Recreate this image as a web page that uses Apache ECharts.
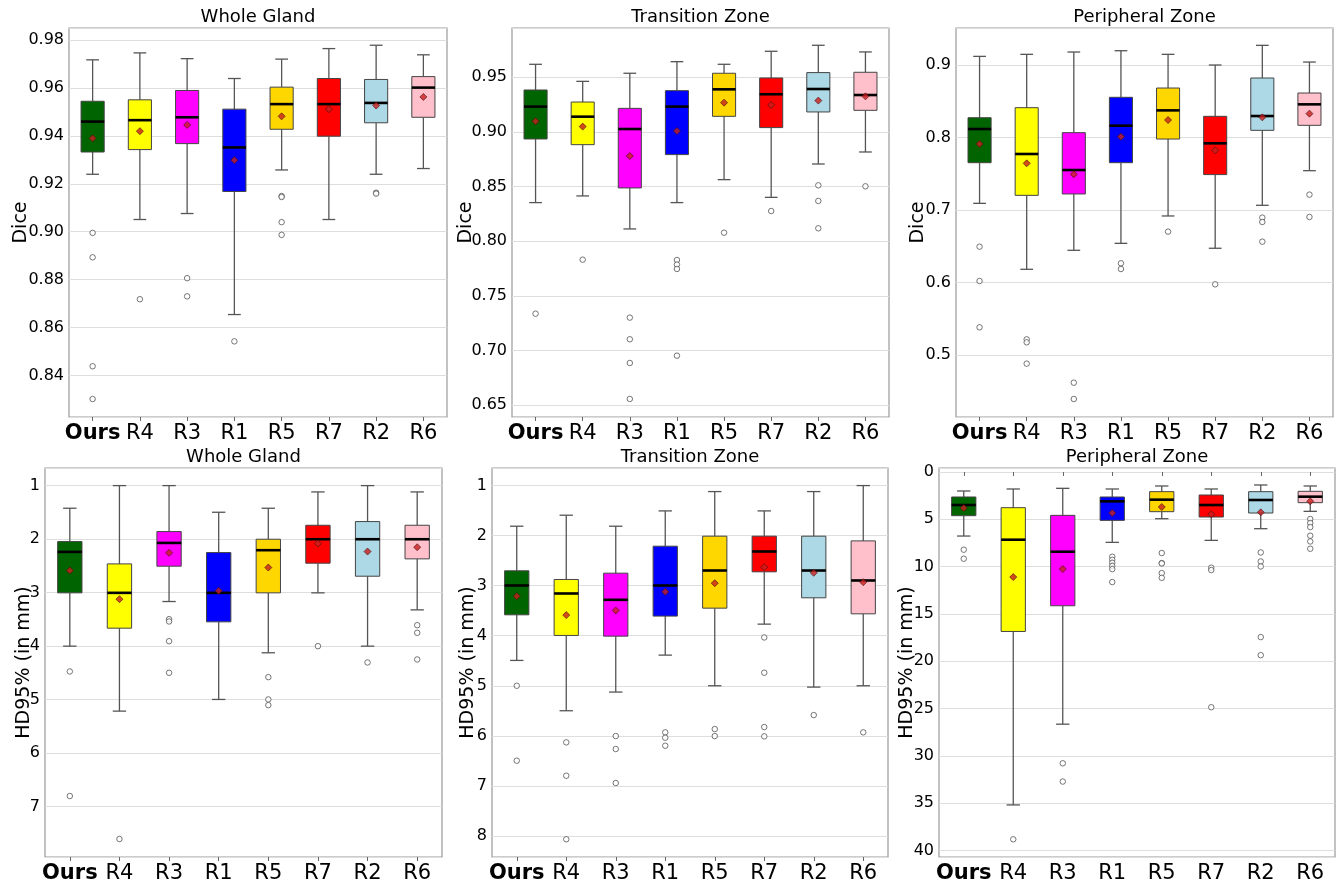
<!DOCTYPE html>
<html><head><meta charset="utf-8">
<script src="https://cdn.jsdelivr.net/npm/echarts@6/dist/echarts.min.js"></script>
<style>html,body{margin:0;padding:0;background:#fff}#c{width:1336px;height:884px}</style>
</head><body><div id="c"></div>
<script>
const categories = ['Ours','R4','R3','R1','R5','R7','R2','R6'];
const boxColors = ['#006400','#ffff00','#ff00ff','#0000ff','#ffd700','#ff0000','#add8e6','#ffc0cb'];

// each box: [whisker low, Q1, median, Q3, whisker high]
const wgDiceBox = [[0.924,0.9333,0.946,0.9545,0.9718],[0.9051,0.9343,0.9466,0.9551,0.9747],[0.9076,0.9368,0.9478,0.959,0.9723],[0.8654,0.9168,0.9352,0.9512,0.964],[0.9258,0.9428,0.9533,0.9604,0.9721],[0.9051,0.9399,0.9533,0.964,0.9765],[0.924,0.9455,0.9538,0.9636,0.9779],[0.9264,0.9478,0.9602,0.9648,0.9739]];
const wgDiceMean = [0.939,0.942,0.9446,0.9299,0.9482,0.9512,0.9527,0.9563];
const wgDiceOut = [[0.8995,0.8893,0.8438,0.8301],[0.8718],[0.8806,0.873],[0.8542],[0.9149,0.9145,0.904,0.8987],[],[0.9163,0.9159],[]];

const tzDiceBox = [[0.8354,0.8936,0.9232,0.9384,0.9619],[0.8415,0.8884,0.914,0.9274,0.9463],[0.8113,0.8488,0.9027,0.9216,0.9537],[0.8354,0.8793,0.9232,0.9378,0.9643],[0.8564,0.9143,0.939,0.9537,0.9619],[0.8402,0.904,0.9345,0.9494,0.9738],[0.8707,0.9183,0.9393,0.9543,0.9793],[0.8817,0.9198,0.9338,0.9546,0.9732]];
const tzDiceMean = [0.9098,0.9049,0.878,0.9009,0.9268,0.9247,0.9287,0.9326];
const tzDiceOut = [[0.7338],[0.7832],[0.7302,0.7104,0.6887,0.6558],[0.7829,0.7787,0.7747,0.6954],[0.8079],[0.8277],[0.8512,0.8369,0.8119],[0.8503]];

const pzDiceBox = [[0.7094,0.7654,0.8118,0.8274,0.9119],[0.6185,0.7204,0.7774,0.8412,0.9147],[0.6447,0.7223,0.7553,0.8068,0.9179],[0.6543,0.7654,0.8164,0.8555,0.9197],[0.692,0.798,0.8375,0.8683,0.9147],[0.6475,0.749,0.7921,0.8293,0.9],[0.7067,0.81,0.8297,0.8821,0.9271],[0.7544,0.8169,0.8458,0.8614,0.9041]];
const pzDiceMean = [0.7912,0.7645,0.7494,0.8013,0.8242,0.7824,0.8279,0.833];
const pzDiceOut = [[0.6497,0.6024,0.5386],[0.522,0.5179,0.4885],[0.4623,0.4398],[0.6268,0.6189],[0.6704],[0.5978],[0.6897,0.6837,0.6566],[0.7214,0.6906]];

const wgHdBox = [[1.423,2.046,2.239,3.004,4.0],[1.0,2.463,3.004,3.664,5.214],[1.0,1.859,2.071,2.506,3.166],[1.498,2.251,3.004,3.546,4.996],[1.423,2.002,2.207,3.004,4.124],[1.118,1.741,2.002,2.45,3.004],[1.0,1.672,2.002,2.693,4.0],[1.118,1.741,2.002,2.369,3.322]];
const wgHdMean = [2.587,3.122,2.257,2.967,2.531,2.083,2.232,2.151];
const wgHdOut = [[4.473,6.801],[7.604],[3.496,3.539,3.907,4.498],[],[4.579,4.996,5.102],[4.0],[4.305],[3.608,3.751,4.249]];

const tzHdBox = [[1.812,2.703,2.996,3.582,4.493],[1.592,2.876,3.156,3.994,5.498],[1.812,2.75,3.282,4.008,5.125],[1.506,2.211,2.996,3.608,4.387],[1.12,2.011,2.697,3.449,4.999],[1.506,2.011,2.317,2.723,3.768],[1.12,2.011,2.697,3.242,5.026],[1.0,2.105,2.896,3.562,4.999]];
const tzHdMean = [3.209,3.588,3.495,3.123,2.95,2.63,2.743,2.93];
const tzHdOut = [[4.999,6.496],[6.13,6.796,8.066],[6.004,6.263,6.942],[5.93,6.037,6.197],[5.864,6.004],[4.034,4.739,5.824,6.01],[5.585],[5.93]];

const pzHdBox = [[2.009,2.643,3.489,4.617,6.767],[1.797,3.771,7.154,16.846,35.17],[1.727,4.581,8.423,14.132,26.64],[1.797,2.643,3.101,5.11,7.436],[1.48,2.079,2.925,4.194,4.934],[1.797,2.432,3.489,4.758,7.225],[1.374,2.079,2.96,4.335,5.991],[1.48,2.044,2.608,3.242,4.159]];
const pzHdMean = [3.806,11.1,10.256,4.335,3.7,4.476,4.264,3.101];
const pzHdOut = [[8.21,9.16],[38.8],[30.77,32.7],[8.95,9.28,9.6,9.93,10.26,11.63],[8.56,9.62,9.66,10.68,11.18],[10.11,10.36,24.85],[8.5,9.45,9.98,17.44,19.35],[4.97,5.39,5.82,6.73,7.34,8.11]];

const yTicksDiceWG = {min:0.8226, max:0.9851, step:0.02, dec:2};
const yTicksDiceTZ = {min:0.6393, max:0.9951, step:0.05, dec:2};
const yTicksDicePZ = {min:0.415, max:0.951, step:0.1, dec:1};
const yTicksHdWG = {min:0.671, max:7.94, step:1, dec:0};
const yTicksHdTZ = {min:0.649, max:8.42, step:1, dec:0};
const yTicksHdPZ = {min:-0.42, max:40.67, step:5, dec:0};

const panels = [
  {title:'Whole Gland', name:'Dice', box:wgDiceBox, mean:wgDiceMean, out:wgDiceOut, ax:yTicksDiceWG, inv:false, g:[69,28,378,389], gap:38},
  {title:'Transition Zone', name:'Dice', box:tzDiceBox, mean:tzDiceMean, out:tzDiceOut, ax:yTicksDiceTZ, inv:false, g:[512,28,377,389], gap:36},
  {title:'Peripheral Zone', name:'Dice', box:pzDiceBox, mean:pzDiceMean, out:pzDiceOut, ax:yTicksDicePZ, inv:false, g:[956,28,377,389], gap:28},
  {title:'Whole Gland', name:'HD95% (in mm)', box:wgHdBox, mean:wgHdMean, out:wgHdOut, ax:yTicksHdWG, inv:true, g:[45,468,397,389], gap:11},
  {title:'Transition Zone', name:'HD95% (in mm)', box:tzHdBox, mean:tzHdMean, out:tzHdOut, ax:yTicksHdTZ, inv:true, g:[492,468,396,389], gap:14},
  {title:'Peripheral Zone', name:'HD95% (in mm)', box:pzHdBox, mean:pzHdMean, out:pzHdOut, ax:yTicksHdPZ, inv:true, g:[939,468,396,389], gap:22}
];

const FONT = 'DejaVu Sans';
function renderBox(params, api) {
  const idx = api.value(0);
  const lo = api.value(1), q1 = api.value(2), md = api.value(3), q3 = api.value(4), hi = api.value(5);
  const band = api.size([1, 0])[0];
  const half = band * 0.245, cap = band * 0.135;
  const x = api.coord([idx, md])[0];
  const yLo = api.coord([idx, lo])[1], yQ1 = api.coord([idx, q1])[1], yMd = api.coord([idx, md])[1];
  const yQ3 = api.coord([idx, q3])[1], yHi = api.coord([idx, hi])[1];
  const ws = {stroke:'#555', lineWidth:1.3};
  return {type:'group', children:[
    {type:'line', shape:{x1:x,y1:yLo,x2:x,y2:yQ1}, style:ws},
    {type:'line', shape:{x1:x,y1:yQ3,x2:x,y2:yHi}, style:ws},
    {type:'line', shape:{x1:x-cap,y1:yLo,x2:x+cap,y2:yLo}, style:ws},
    {type:'line', shape:{x1:x-cap,y1:yHi,x2:x+cap,y2:yHi}, style:ws},
    {type:'rect', shape:{x:x-half, y:Math.min(yQ1,yQ3), width:2*half, height:Math.abs(yQ3-yQ1)}, style:{fill:boxColors[idx], stroke:'#444', lineWidth:1}},
    {type:'line', shape:{x1:x-half,y1:yMd,x2:x+half,y2:yMd}, style:{stroke:'#000', lineWidth:2.6}}
  ]};
}

const option = {animation:false, backgroundColor:'#fff', title:[], grid:[], xAxis:[], yAxis:[], series:[]};
panels.forEach((p, i) => {
  const [l, t, w, h] = p.g;
  option.title.push({text:p.title, left:l + w/2, top:t - 20, textAlign:'center', padding:0,
    textStyle:{fontFamily:FONT, fontSize:18, fontWeight:'normal', color:'#000'}});
  option.grid.push({left:l, top:t, width:w, height:h, show:true, borderColor:'#999', borderWidth:1.2, backgroundColor:'transparent'});
  option.xAxis.push({type:'category', gridIndex:i, data:categories, boundaryGap:true,
    axisLine:{show:false}, axisTick:{show:true, alignWithLabel:true, length:4, lineStyle:{color:'#666'}},
    axisLabel:{margin:6, fontFamily:FONT, fontSize:21, color:'#000', interval:0,
      formatter:v => v === 'Ours' ? '{b|Ours}' : v,
      rich:{b:{fontFamily:FONT, fontSize:21, fontWeight:'bold', color:'#000'}}},
    splitLine:{show:false}});
  const st = p.ax.step;
  option.yAxis.push({type:'value', gridIndex:i, min:p.ax.min, max:p.ax.max, inverse:p.inv,
    splitNumber:Math.round((p.ax.max - p.ax.min)/st), minInterval:st, maxInterval:st,
    name:p.name, nameLocation:'middle', nameGap:p.gap, nameMoveOverlap:false,
    nameTextStyle:{fontFamily:FONT, fontSize:19, color:'#000'},
    axisLine:{show:false}, axisTick:{show:false},
    axisLabel:{margin:5, fontFamily:FONT, fontSize:16, color:'#000', showMinLabel:false, showMaxLabel:false,
      formatter:v => Number(v).toFixed(p.ax.dec)},
    splitLine:{show:true, lineStyle:{color:'#dedede', width:1}}});
  option.series.push({type:'custom', xAxisIndex:i, yAxisIndex:i, renderItem:renderBox, z:2,
    encode:{x:0, y:[1,2,3,4,5]},
    data:p.box.map((b, k) => [k].concat(b))});
  const outs = [];
  p.out.forEach((arr, k) => arr.forEach(v => outs.push([k, v])));
  option.series.push({type:'scatter', xAxisIndex:i, yAxisIndex:i, z:3, symbol:'circle', symbolSize:5.5,
    itemStyle:{color:'#fff', borderColor:'#555', borderWidth:1}, data:outs});
  option.series.push({type:'scatter', xAxisIndex:i, yAxisIndex:i, z:4, symbol:'diamond', symbolSize:7,
    itemStyle:{color:'#c81e1e', borderColor:'#4a1010', borderWidth:0.8},
    data:p.mean.map((m, k) => [k, m])});
});
const chart = echarts.init(document.getElementById('c'), null, {renderer:'canvas'});
chart.setOption(option);
</script>
</body></html>
